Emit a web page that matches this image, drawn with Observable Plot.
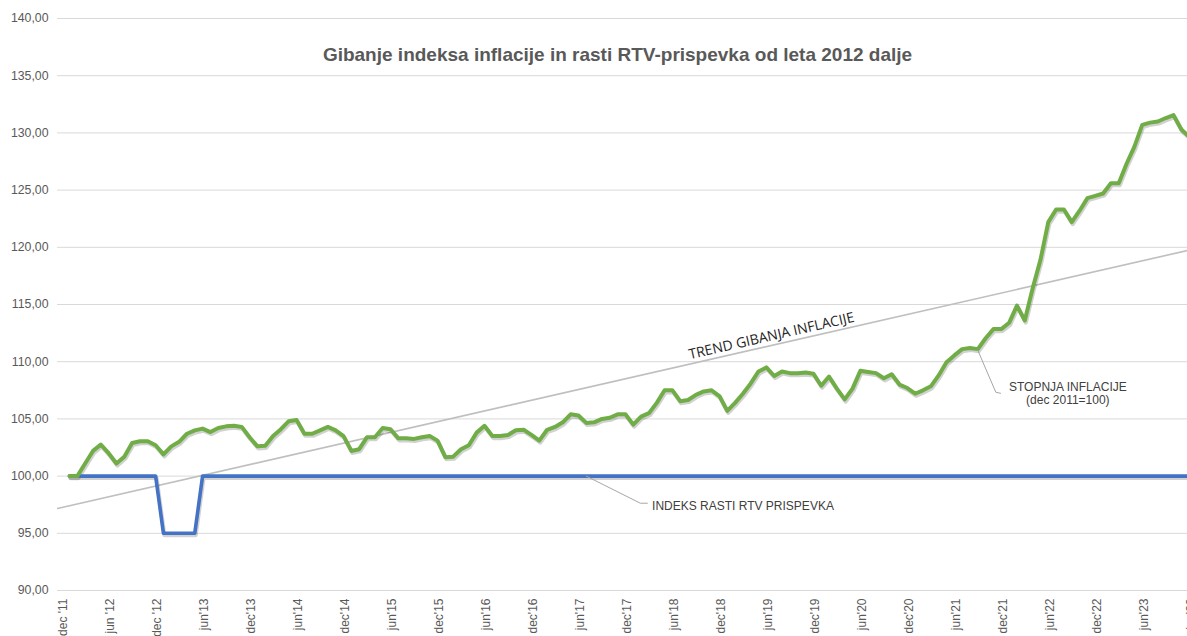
<!DOCTYPE html>
<html>
<head>
<meta charset="utf-8">
<script src="https://cdn.jsdelivr.net/npm/d3@7"></script>
<script src="https://cdn.jsdelivr.net/npm/@observablehq/plot@0.6"></script>
<style>
  html, body { margin: 0; padding: 0; background: #fff; }
  #chart svg { display: block; }
</style>
</head>
<body>
<div id="chart"></div>
<script>
// Month index 0 = dec 2011
const inflation = [
  100.0, 100.0, 101.1, 102.2, 102.75, 102.0, 101.1, 101.7, 102.9, 103.05,
  103.05, 102.7, 101.9, 102.6, 103.0, 103.7, 104.0, 104.15, 103.85, 104.2,
  104.35, 104.4, 104.3, 103.4, 102.6, 102.65, 103.5, 104.1, 104.8, 104.9,
  103.7, 103.7, 104.0, 104.3, 104.0, 103.5, 102.2, 102.35, 103.4, 103.4,
  104.2, 104.1, 103.3, 103.3, 103.25, 103.4, 103.5, 103.1, 101.65, 101.7,
  102.35, 102.7, 103.8, 104.4, 103.5, 103.5, 103.6, 104.0, 104.05, 103.6,
  103.1, 104.05, 104.3, 104.7, 105.4, 105.3, 104.65, 104.7, 105.0, 105.1,
  105.4, 105.4, 104.5, 105.2, 105.5, 106.4, 107.5, 107.5, 106.55, 106.65,
  107.1, 107.4, 107.5, 107.0, 105.7, 106.4, 107.2, 108.1, 109.15, 109.5,
  108.75, 109.15, 109.0, 109.0, 109.05, 108.95, 107.9, 108.7, 107.65, 106.7,
  107.65, 109.2, 109.1, 109.0, 108.55, 108.9, 108.0, 107.7, 107.2, 107.5,
  107.85, 108.8, 109.95, 110.55, 111.1, 111.2, 111.1, 112.05, 112.85, 112.85,
  113.4, 114.9, 113.6, 116.4, 118.9, 122.2, 123.3, 123.3, 122.2, 123.2,
  124.3, 124.5, 124.7, 125.6, 125.6, 127.3, 128.8, 130.7, 130.9, 131.0,
  131.3, 131.55, 130.3, 129.65
];

const rtvIndex = [
  100, 100, 100, 100, 100, 100, 100, 100, 100, 100,
  100, 100, 95, 95, 95, 95, 95, 100, 100, 100,
  100, 100, 100, 100, 100, 100, 100, 100, 100, 100,
  100, 100, 100, 100, 100, 100, 100, 100, 100, 100,
  100, 100, 100, 100, 100, 100, 100, 100, 100, 100,
  100, 100, 100, 100, 100, 100, 100, 100, 100, 100,
  100, 100, 100, 100, 100, 100, 100, 100, 100, 100,
  100, 100, 100, 100, 100, 100, 100, 100, 100, 100,
  100, 100, 100, 100, 100, 100, 100, 100, 100, 100,
  100, 100, 100, 100, 100, 100, 100, 100, 100, 100,
  100, 100, 100, 100, 100, 100, 100, 100, 100, 100,
  100, 100, 100, 100, 100, 100, 100, 100, 100, 100,
  100, 100, 100, 100, 100, 100, 100, 100, 100, 100,
  100, 100, 100, 100, 100, 100, 100, 100, 100, 100,
  100, 100, 100, 100
];

const tickMonths = [0, 6, 12, 18, 24, 30, 36, 42, 48, 54, 60, 66, 72, 78, 84, 90, 96, 102, 108, 114, 120, 126, 132, 138, 144];
const tickLabels = ["dec '11", "jun '12", "dec '12", "jun'13", "dec'13", "jun'14", "dec'14", "jun'15", "dec'15", "jun'16", "dec'16", "jun'17",
                    "dec'17", "jun'18", "dec'18", "jun'19", "dec'19", "jun'20", "dec'20", "jun'21", "dec'21", "jun'22", "dec'22", "jun'23", "dec'23"];
const yTicks = [90, 95, 100, 105, 110, 115, 120, 125, 130, 135, 140];

const trendMonths = [-1.53, 142.78];
const trendValues = [97.17, 119.72];

const titleText = "Gibanje indeksa inflacije in rasti RTV-prispevka od leta 2012 dalje";
const trendLabel = {text: "TREND GIBANJA INFLACIJE", month: 89.65, value: 111.42};
const inflLabel = {text: "STOPNJA INFLACIJE\n(dec 2011=100)", month: 127.5, value: 107.25};
const inflLeader = [{month: 116, value: 111.0}, {month: 118.3, value: 107.33}, {month: 118.9, value: 107.24}];
const rtvLabel = {text: "INDEKS RASTI RTV PRISPEVKA", month: 74.4, value: 97.34};
const rtvLeader = [{month: 66, value: 100.0}, {month: 72.9, value: 97.63}, {month: 73.8, value: 97.63}];

const inflData = inflation.map((v, i) => ({month: i, value: v}));
const rtvData = rtvIndex.map((v, i) => ({month: i, value: v}));
const trendData = trendMonths.map((m, i) => ({month: m, value: trendValues[i]}));

const font = "'Liberation Sans', Arial, sans-serif";

const chart = Plot.plot({
  width: 1187,
  height: 636,
  marginLeft: 57,
  marginRight: 0,
  marginTop: 18,
  marginBottom: 46,
  style: {fontFamily: font, fontSize: "12px", color: "#595959", background: "#fff", overflow: "hidden"},
  x: {domain: [-1.53, 142.78], label: null},
  y: {domain: [90, 140], label: null},
  marks: [
    Plot.gridY(yTicks, {stroke: "#d9d9d9", strokeOpacity: 1, strokeWidth: 1}),
    Plot.axisY(yTicks, {tickSize: 0, tickPadding: 9, tickFormat: d => d.toFixed(2).replace(".", ","), fill: "#595959", fontSize: 12.3, label: null}),
    Plot.axisX(tickMonths, {tickSize: 0, tickPadding: 8, tickRotate: -90, dx: -6,
      tickFormat: m => tickLabels[tickMonths.indexOf(m)], fill: "#595959", fontSize: 12, label: null}),
    Plot.text([titleText], {frameAnchor: "top", dx: -5, dy: 29, fontSize: 19, fontWeight: "bold", fill: "#595959", fontFamily: font}),
    Plot.line(trendData, {x: "month", y: "value", stroke: "#bfbfbf", strokeWidth: 1.6, clip: true}),
    Plot.line(rtvData, {x: "month", y: "value", stroke: "#000", strokeOpacity: 0.18, strokeWidth: 4, dx: 1, dy: 2, clip: true}),
    Plot.line(inflData, {x: "month", y: "value", stroke: "#000", strokeOpacity: 0.18, strokeWidth: 4.2, dx: 1, dy: 2, clip: true}),
    Plot.line(rtvData, {x: "month", y: "value", stroke: "#4472c4", strokeWidth: 3.6, clip: true}),
    Plot.line(inflData, {x: "month", y: "value", stroke: "#70ad47", strokeWidth: 4, clip: true}),
    Plot.line(inflLeader, {x: "month", y: "value", stroke: "#a6a6a6", strokeWidth: 1}),
    Plot.line(rtvLeader, {x: "month", y: "value", stroke: "#a6a6a6", strokeWidth: 1}),
    Plot.text([inflLabel], {x: "month", y: "value", text: "text", fill: "#404040", fontSize: 12, lineHeight: 1.11, fontFamily: font}),
    Plot.text([rtvLabel], {x: "month", y: "value", text: "text", fill: "#404040", fontSize: 12, textAnchor: "start", fontFamily: font}),
    Plot.text([trendLabel], {x: "month", y: "value", text: "text", fill: "#262626", fontSize: 14, rotate: -12.86, dy: -9.5, fontFamily: "'Open Sans', sans-serif"})
  ]
});

document.getElementById("chart").appendChild(chart);
</script>
</body>
</html>
